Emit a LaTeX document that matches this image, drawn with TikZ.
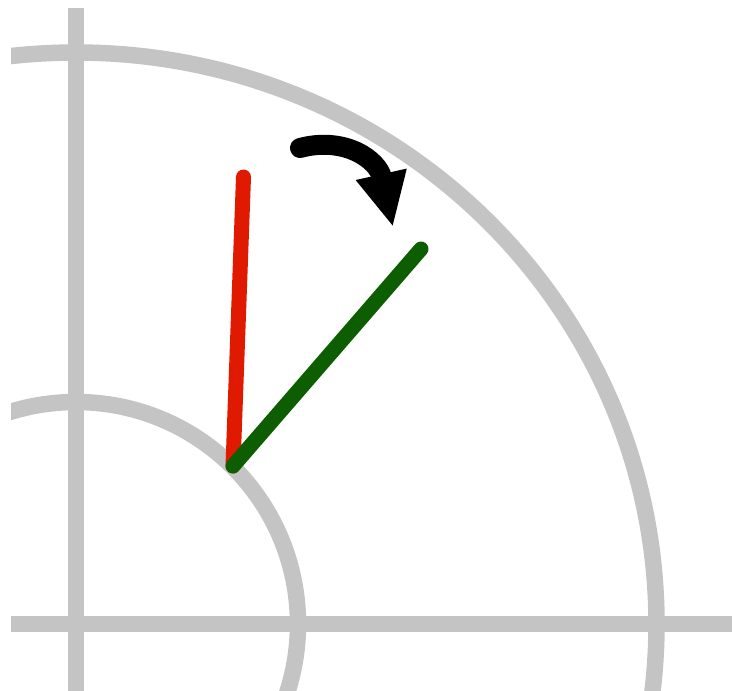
\documentclass[tikz,border=0pt]{standalone}
\usepackage{xcolor}
\usepackage{tikz}
\usetikzlibrary{arrows.meta}
\definecolor{guidegray}{RGB}{196,196,196}
\definecolor{oldred}{RGB}{224,26,0}
\definecolor{newgreen}{RGB}{12,94,0}

\begin{document}
\begin{tikzpicture}[
  x=1pt, y=-1pt,
  guide/.style={draw=guidegray,line width=16.5pt},
  hand/.style={line width=15pt,line cap=round}
]
\useasboundingbox (0,0) rectangle (732,691);
\coordinate (c) at (76,624);
\coordinate (o) at (233,466);
\coordinate (r) at (243.5,177);
\coordinate (g) at (421,249);
\coordinate (s) at (300,148);
\coordinate (t) at (393,227);
% grey axes and circles
\begin{scope}
  \clip (11,0) rectangle (732,691);
  \draw[guide] (c) circle[radius=222pt];
  \draw[guide] (c) ellipse[x radius=580.5pt,y radius=571.5pt];
  \draw[guide] (11,624) -- (732,624);
\end{scope}
\draw[guide] (76,8) -- (76,691);
% hands
\draw[hand,oldred] (o) -- (r);
\draw[hand,newgreen] (o) -- (g);
% turning arrow
\draw[line width=20pt,line cap=round,-{Triangle[length=54pt,width=48pt]}]
  (s) .. controls (345,136) and (378,160) .. (t);
\end{tikzpicture}
\end{document}
